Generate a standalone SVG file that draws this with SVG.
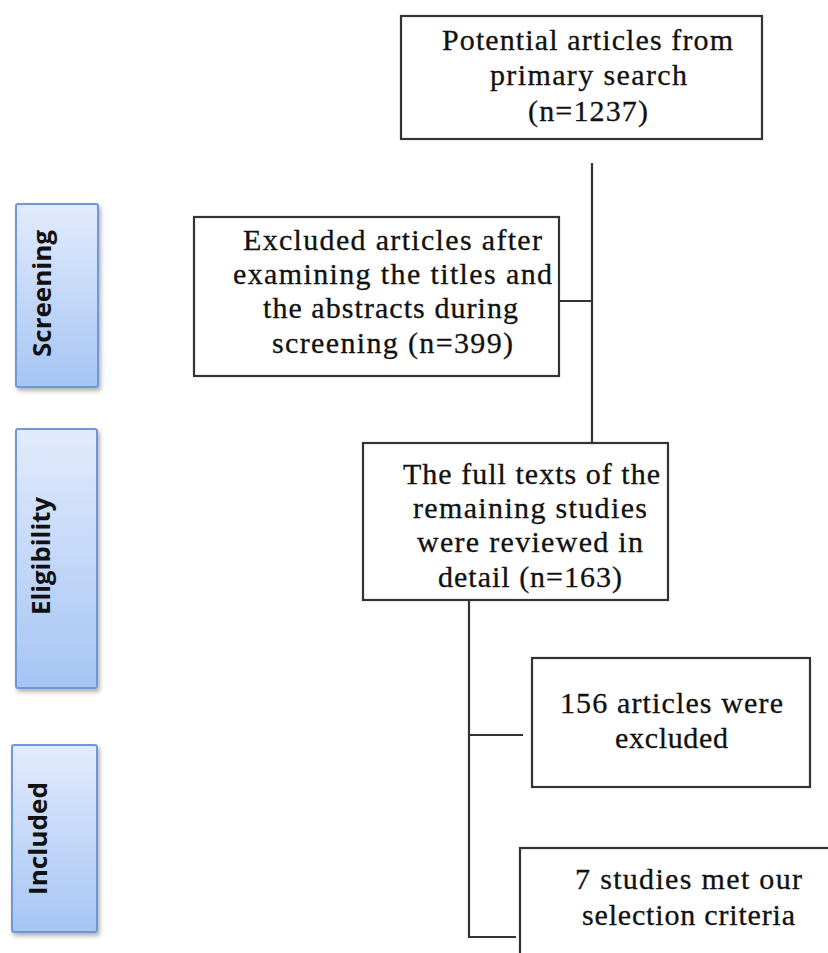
<svg xmlns="http://www.w3.org/2000/svg" width="828" height="953" viewBox="0 0 828 953">
<defs>
<linearGradient id="phaseGrad" x1="0" y1="0" x2="0" y2="1">
<stop offset="0" stop-color="#e2ebfc"/>
<stop offset="1" stop-color="#a6c5f4"/>
</linearGradient>
<filter id="shadow" x="-20%" y="-10%" width="150%" height="130%">
<feDropShadow dx="2" dy="3" stdDeviation="2" flood-color="#000" flood-opacity="0.3"/>
</filter>
</defs>
<style>
.box{fill:#fff;stroke:#333;stroke-width:2.2}
.phase{fill:url(#phaseGrad);stroke:#6e98d6;stroke-width:2;filter:url(#shadow)}
.t{font-family:"Liberation Serif","Times New Roman",serif;font-size:30px;fill:#111;stroke:#111;stroke-width:0.3}
.p{font-family:"Open Sans","Liberation Sans",sans-serif;font-weight:bold;font-size:25px;fill:#111}
.conn{stroke:#333;stroke-width:2.2;fill:none}
</style>
<rect width="828" height="953" fill="#fff"/>

<g id="phase-screening">
<rect class="phase" x="16" y="204" width="82" height="183" rx="2"/>
<text class="p" transform="translate(51,357) rotate(-90)" textLength="127" lengthAdjust="spacingAndGlyphs">Screening</text>
</g>
<g id="phase-eligibility">
<rect class="phase" x="16" y="429" width="81" height="259" rx="2"/>
<text class="p" transform="translate(50,615) rotate(-90)" textLength="118" lengthAdjust="spacingAndGlyphs">Eligibility</text>
</g>
<g id="phase-included">
<rect class="phase" x="12" y="745" width="85" height="187" rx="2"/>
<text class="p" transform="translate(47,895) rotate(-90)" textLength="113" lengthAdjust="spacingAndGlyphs">Included</text>
</g>

<g id="connectors">
<line class="conn" x1="592" y1="163" x2="592" y2="443"/>
<line class="conn" x1="559" y1="301" x2="592" y2="301"/>
<line class="conn" x1="469" y1="600" x2="469" y2="938"/>
<line class="conn" x1="469" y1="735" x2="523" y2="735"/>
<line class="conn" x1="469" y1="937" x2="516" y2="937"/>
</g>

<g id="node-primary">
<rect class="box" x="401" y="16" width="361" height="123"/>
<text class="t" x="442" y="50" textLength="291" lengthAdjust="spacing">Potential articles from</text>
<text class="t" x="490" y="85" textLength="197" lengthAdjust="spacing">primary search</text>
<text class="t" x="528" y="121" textLength="120" lengthAdjust="spacing">(n=1237)</text>
</g>

<g id="node-excluded-screening">
<rect class="box" x="194" y="217" width="365" height="159"/>
<text class="t" x="243" y="250" textLength="299" lengthAdjust="spacing">Excluded articles after</text>
<text class="t" x="233" y="284" textLength="319" lengthAdjust="spacing">examining the titles and</text>
<text class="t" x="263" y="318" textLength="255" lengthAdjust="spacing">the abstracts during</text>
<text class="t" x="272" y="353" textLength="241" lengthAdjust="spacing">screening (n=399)</text>
</g>

<g id="node-fulltext">
<rect class="box" x="363" y="443" width="305" height="157"/>
<text class="t" x="403" y="484" textLength="257" lengthAdjust="spacing">The full texts of the</text>
<text class="t" x="413" y="518" textLength="234" lengthAdjust="spacing">remaining studies</text>
<text class="t" x="417" y="552" textLength="226" lengthAdjust="spacing">were reviewed in</text>
<text class="t" x="438" y="587" textLength="184" lengthAdjust="spacing">detail (n=163)</text>
</g>

<g id="node-excluded-156">
<rect class="box" x="532" y="658" width="278" height="129"/>
<text class="t" x="560" y="713" textLength="223" lengthAdjust="spacing">156 articles were</text>
<text class="t" x="615" y="748" textLength="113" lengthAdjust="spacing">excluded</text>
</g>

<g id="node-included">
<rect class="box" x="520" y="848" width="330" height="130"/>
<text class="t" x="575" y="889" textLength="227" lengthAdjust="spacing">7 studies met our</text>
<text class="t" x="582" y="925" textLength="213" lengthAdjust="spacing">selection criteria</text>
</g>
</svg>
